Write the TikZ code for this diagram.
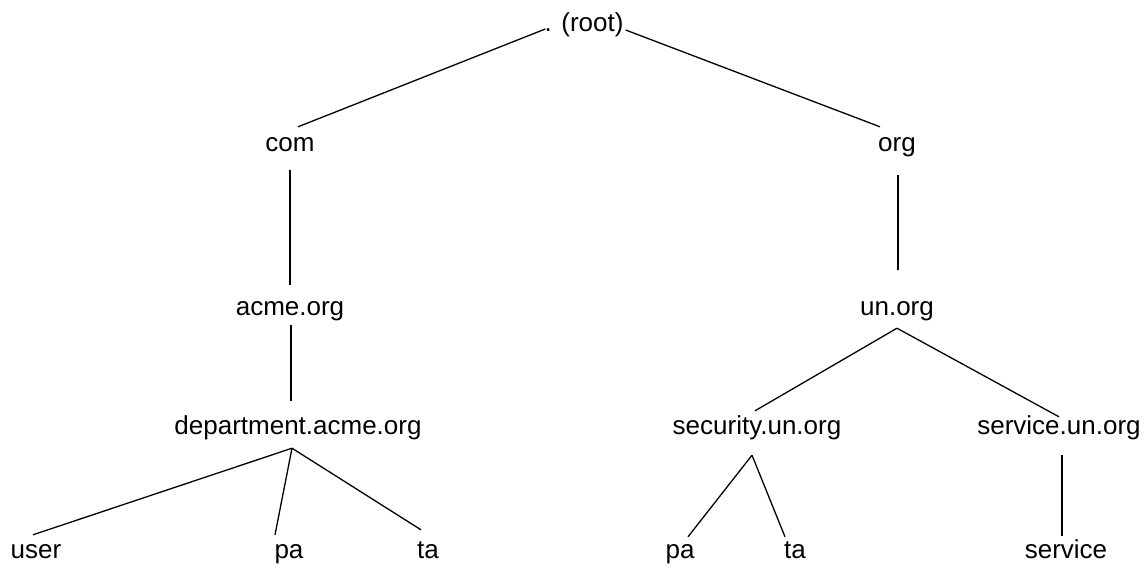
\documentclass[tikz,border=0pt]{standalone}
\usepackage{fontspec}
\setmainfont{Liberation Sans}
\begin{document}
\begin{tikzpicture}[x=1pt,y=1pt,
  lbl/.style={font=\fontsize{26}{30}\selectfont, inner sep=0pt, anchor=base, text height=19pt, text depth=5.5pt},
  conn/.style={line width=1.3pt, black}]
\useasboundingbox (0,0) rectangle (1146,-566);
\fill[white] (0,0) rectangle (1146,-566);
% nodes (center x, baseline y)
\node[lbl] (root) at (584,-31) {. (root)};
\node[lbl] (com) at (290,-151) {com};
\node[lbl] (org) at (897,-151) {org};
\node[lbl] (acme) at (290,-315) {acme.org};
\node[lbl] (un) at (897,-315) {un.org};
\node[lbl] (dept) at (298,-434) {department.acme.org};
\node[lbl] (sec) at (757,-434) {security.un.org};
\node[lbl] (serv) at (1059,-434) {service.un.org};
\node[lbl] (user) at (36,-558) {user};
\node[lbl] (pa1) at (289,-558) {pa};
\node[lbl] (ta1) at (428,-558) {ta};
\node[lbl] (pa2) at (680,-558) {pa};
\node[lbl] (ta2) at (795,-558) {ta};
\node[lbl] (service) at (1066,-558) {service};
% connectors
\draw[conn] ([shift={(1,2)}]root.base west) -- ([shift={(8,5)}]com.north);
\draw[conn] ([shift={(2,1)}]root.base east) -- ([shift={(-17,5)}]org.north);
\draw[conn] ([yshift=-13.5]com.south) -- ([yshift=11]acme.north);
\draw[conn] ([shift={(1,-18.5)}]org.south) -- ([shift={(1,26)}]un.north);
\draw[conn] ([shift={(1,-4.5)}]acme.south) -- ([shift={(-7,14)}]dept.north);
\draw[conn] ([shift={(-6,-8.5)}]dept.south) -- ([shift={(-3,4)}]user.north);
\draw[conn] ([shift={(-6,-8.5)}]dept.south) -- ([shift={(-14,4)}]pa1.north);
\draw[conn] ([shift={(-6,-8.5)}]dept.south) -- ([shift={(-7,9)}]ta1.north);
\draw[conn] ([yshift=-7.5]un.south) -- ([shift={(-2,4)}]sec.north);
\draw[conn] ([yshift=-7.5]un.south) -- ([shift={(0,-2)}]serv.north);
\draw[conn] ([shift={(-5,-15.5)}]sec.south) -- ([shift={(8,2)}]pa2.north);
\draw[conn] ([shift={(-5,-15.5)}]sec.south) -- ([shift={(-10,2)}]ta2.north);
\draw[conn] ([shift={(3,-15.5)}]serv.south) -- ([shift={(-4,3)}]service.north);
\end{tikzpicture}
\end{document}
